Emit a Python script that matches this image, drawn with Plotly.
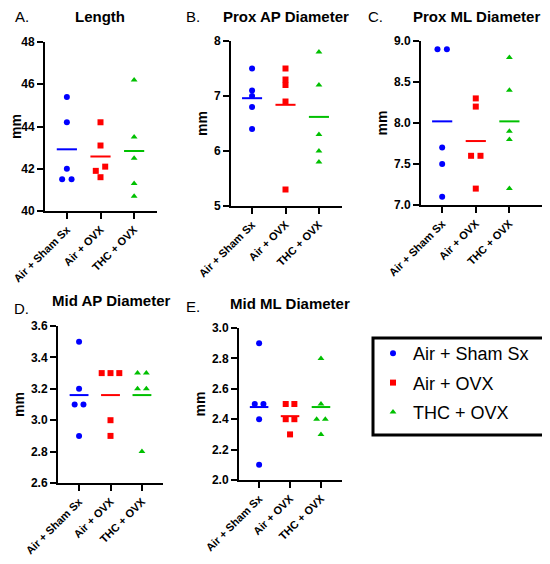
import plotly.graph_objects as go

groups = ["Air + Sham Sx", "Air + OVX", "THC + OVX"]
colors = ["#0000FF", "#FF0000", "#00C000"]
symbols = ["circle", "square", "triangle-up"]

# values read per group: Air + Sham Sx, Air + OVX, THC + OVX
length = [[45.4, 44.2, 42.0, 41.5, 41.5],
          [44.2, 43.1, 42.1, 41.9, 41.6],
          [46.2, 43.5, 42.5, 41.3, 40.7]]
prox_ap = [[7.5, 7.1, 7.0, 6.8, 6.4],
           [7.5, 7.3, 7.2, 6.9, 5.3],
           [7.8, 7.2, 6.3, 6.0, 5.8]]
prox_ml = [[8.9, 8.9, 7.7, 7.5, 7.1],
           [8.3, 8.2, 7.6, 7.6, 7.2],
           [8.8, 8.4, 7.9, 7.8, 7.2]]
mid_ap = [[3.5, 3.2, 3.1, 3.1, 2.9],
          [3.3, 3.3, 3.3, 3.0, 2.9],
          [3.3, 3.3, 3.2, 3.2, 2.8]]
mid_ml = [[2.9, 2.5, 2.5, 2.4, 2.1],
          [2.5, 2.5, 2.4, 2.4, 2.3],
          [2.8, 2.5, 2.4, 2.4, 2.3]]

W, H = 550, 564
OFF = 8  # page body margin, positions below are screen pixels
FONT = "Liberation Sans"


def px2x(p):
    return (p - OFF) / W


def px2y(p):
    return 1 - (p - OFF) / H


panels = [
    dict(letter="A.", title="Length", data=length, yr=[40, 48], dt=2, fmt="",
         box=(45, 157, 42, 211), xr=[-0.65, 2.68], tpos=(100, 17), lpos=(22, 17)),
    dict(letter="B.", title="Prox AP Diameter", data=prox_ap, yr=[5, 8], dt=1, fmt="",
         box=(231, 342, 41, 206), xr=[-0.63, 2.69], tpos=(286, 17), lpos=(193, 17)),
    dict(letter="C.", title="Prox ML Diameter", data=prox_ml, yr=[7, 9], dt=0.5, fmt=".1f",
         box=(421, 543, 41, 205), xr=[-0.63, 3.0], tpos=(476, 17), lpos=(375, 17)),
    dict(letter="D.", title="Mid AP Diameter", data=mid_ap, yr=[2.6, 3.6], dt=0.2, fmt=".1f",
         box=(58, 163, 326, 483), xr=[-0.67, 2.67], tpos=(111, 300), lpos=(21, 308)),
    dict(letter="E.", title="Mid ML Diameter", data=mid_ml, yr=[2.0, 3.0], dt=0.2, fmt=".1f",
         box=(239, 342, 328, 480), xr=[-0.65, 2.68], tpos=(290, 303), lpos=(193, 306)),
]


def spread(vals, tol, step=0.28):
    # put equal values side by side, like a scatter dot plot
    order = sorted(range(len(vals)), key=lambda k: vals[k])
    offs = [0.0] * len(vals)
    clusters = []
    for k in order:
        if clusters and vals[k] - vals[clusters[-1][-1]] <= tol:
            clusters[-1].append(k)
        else:
            clusters.append([k])
    for c in clusters:
        n = len(c)
        for j, k in enumerate(c):
            offs[k] = (j - (n - 1) / 2) * step
    return offs


fig = go.Figure()
annotations = []
for p_i, p in enumerate(panels):
    n = "" if p_i == 0 else str(p_i + 1)
    xa, ya = "x" + n, "y" + n
    tol = 0.03 * (p["yr"][1] - p["yr"][0])
    for g in range(3):
        vals = p["data"][g]
        offs = spread(vals, tol)
        fig.add_trace(go.Scatter(
            x=[g + o for o in offs], y=vals, mode="markers",
            marker=dict(color=colors[g], symbol=symbols[g], size=6),
            name=groups[g], legendgroup=groups[g], showlegend=(p_i == 0),
            xaxis=xa, yaxis=ya, cliponaxis=False))
        m = sum(vals) / len(vals)
        fig.add_trace(go.Scatter(
            x=[g - 0.3, g + 0.3], y=[m, m], mode="lines",
            line=dict(color=colors[g], width=2),
            showlegend=False, xaxis=xa, yaxis=ya, hoverinfo="skip"))

    x0, x1, y0, y1 = p["box"]
    axis_common = dict(showline=True, linecolor="black", linewidth=2, ticks="outside",
                       ticklen=6, tickwidth=2, tickcolor="black", showgrid=False,
                       zeroline=False, mirror=False, automargin=False)
    fig.layout["xaxis" + n] = dict(
        domain=[px2x(x0), px2x(x1)], range=p["xr"], anchor=ya,
        tickvals=[0, 1, 2], ticktext=groups, tickangle=-45,
        tickfont=dict(family=FONT, size=11, color="black", weight="bold"),
        **axis_common)
    fig.layout["yaxis" + n] = dict(
        domain=[px2y(y1), px2y(y0)], range=p["yr"], anchor=xa, dtick=p["dt"],
        tickformat=p["fmt"],
        tickfont=dict(family=FONT, size=12, color="black", weight="bold"),
        title=dict(text="mm", standoff=3,
                   font=dict(family=FONT, size=14, color="black", weight="bold")),
        **axis_common)

    annotations.append(dict(text="<b>" + p["title"] + "</b>", x=px2x(p["tpos"][0]),
                            y=px2y(p["tpos"][1]), xref="paper", yref="paper",
                            showarrow=False, xanchor="center", yanchor="middle",
                            font=dict(family=FONT, size=15, color="black")))
    annotations.append(dict(text=p["letter"], x=px2x(p["lpos"][0]),
                            y=px2y(p["lpos"][1]), xref="paper", yref="paper",
                            showarrow=False, xanchor="center", yanchor="middle",
                            font=dict(family=FONT, size=15, color="black")))

fig.update_layout(
    width=W, height=H, margin=dict(l=0, r=0, t=0, b=0, autoexpand=False),
    plot_bgcolor="white", paper_bgcolor="white",
    annotations=annotations,
    shapes=[dict(type="rect", xref="paper", yref="paper",
                 x0=px2x(373), x1=px2x(545), y0=px2y(435), y1=px2y(338),
                 line=dict(color="black", width=3))],
    legend=dict(x=px2x(373), y=px2y(335), xanchor="left", yanchor="top",
                bgcolor="rgba(0,0,0,0)", borderwidth=0, tracegroupgap=3,
                font=dict(family=FONT, size=18, color="black"),
                itemwidth=30),
)

fig.write_html("out.html")
